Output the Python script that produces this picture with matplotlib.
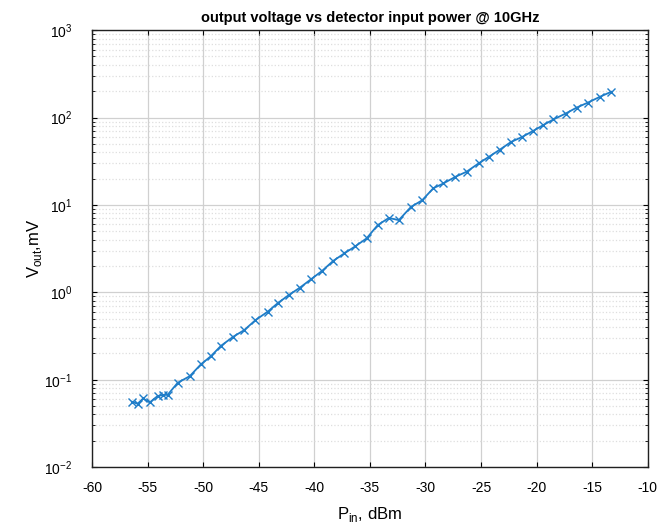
import matplotlib.pyplot as plt
import numpy as np

plt.rcParams['font.family'] = ['Liberation Sans', 'DejaVu Sans']
plt.rcParams['mathtext.fontset'] = 'custom'
plt.rcParams['mathtext.rm'] = 'Liberation Sans'
plt.rcParams['axes.unicode_minus'] = False

# input power, dBm
p_in = [-56.4, -55.9, -55.4, -54.8, -54.1, -53.6, -53.2, -52.3, -51.2, -50.2,
        -49.3, -48.4, -47.3, -46.3, -45.3, -44.2, -43.3, -42.3, -41.3, -40.3,
        -39.3, -38.3, -37.3, -36.3, -35.3, -34.3, -33.3, -32.4, -31.3, -30.3,
        -29.3, -28.4, -27.3, -26.3, -25.2, -24.3, -23.3, -22.3, -21.3, -20.3,
        -19.4, -18.5, -17.4, -16.4, -15.4, -14.3, -13.3]
# output voltage, mV
v_out = [0.056, 0.053, 0.061, 0.055, 0.065, 0.067, 0.067, 0.092, 0.11, 0.15,
         0.186, 0.244, 0.31, 0.37, 0.48, 0.60, 0.75, 0.93, 1.13, 1.41,
         1.76, 2.29, 2.79, 3.37, 4.14, 5.87, 7.1, 6.7, 9.5, 11.3,
         15.5, 17.6, 21.0, 24.0, 30.0, 35.5, 43.0, 52.6, 60.0, 70.5,
         82.0, 95.0, 111.0, 130.0, 148.0, 173.0, 197.0]

fig = plt.figure(figsize=(6.57, 5.29), dpi=100)
ax = fig.add_axes([0.14, 0.117, 0.846, 0.826])

ax.semilogy(p_in, v_out, color='#1f7dc8', marker='x', markersize=6,
            linewidth=1.3, markeredgewidth=1.0)

ax.set_xlim(-60, -10)
ax.set_ylim(1e-2, 1e3)
ax.set_xticks(np.arange(-60, -9, 5))

ax.grid(True, which='major', color='#d0d0d0', linestyle='-', linewidth=0.9)
ax.grid(True, which='minor', axis='y', color='#dedede', linestyle=':', linewidth=0.9)
ax.set_axisbelow(True)

ax.tick_params(which='both', direction='in', top=True, right=True, labelsize=10)
ax.tick_params(axis='x', which='major', pad=10)
ax.tick_params(axis='y', which='major', pad=14)
ax.tick_params(axis='x', which='minor', bottom=False, top=False)
for s in ax.spines.values():
    s.set_linewidth(1.0)
    s.set_color('#202020')

ax.set_title('output voltage vs detector input power @ 10GHz', fontsize=10.5,
             fontweight='bold', pad=6)
ax.set_xlabel(r'P$_{\mathrm{in}}$, dBm', fontsize=12, labelpad=7)
ax.set_ylabel(r'V$_{\mathrm{out}}$,mV', fontsize=12, labelpad=0)

fig.savefig('out.png', dpi=100)
